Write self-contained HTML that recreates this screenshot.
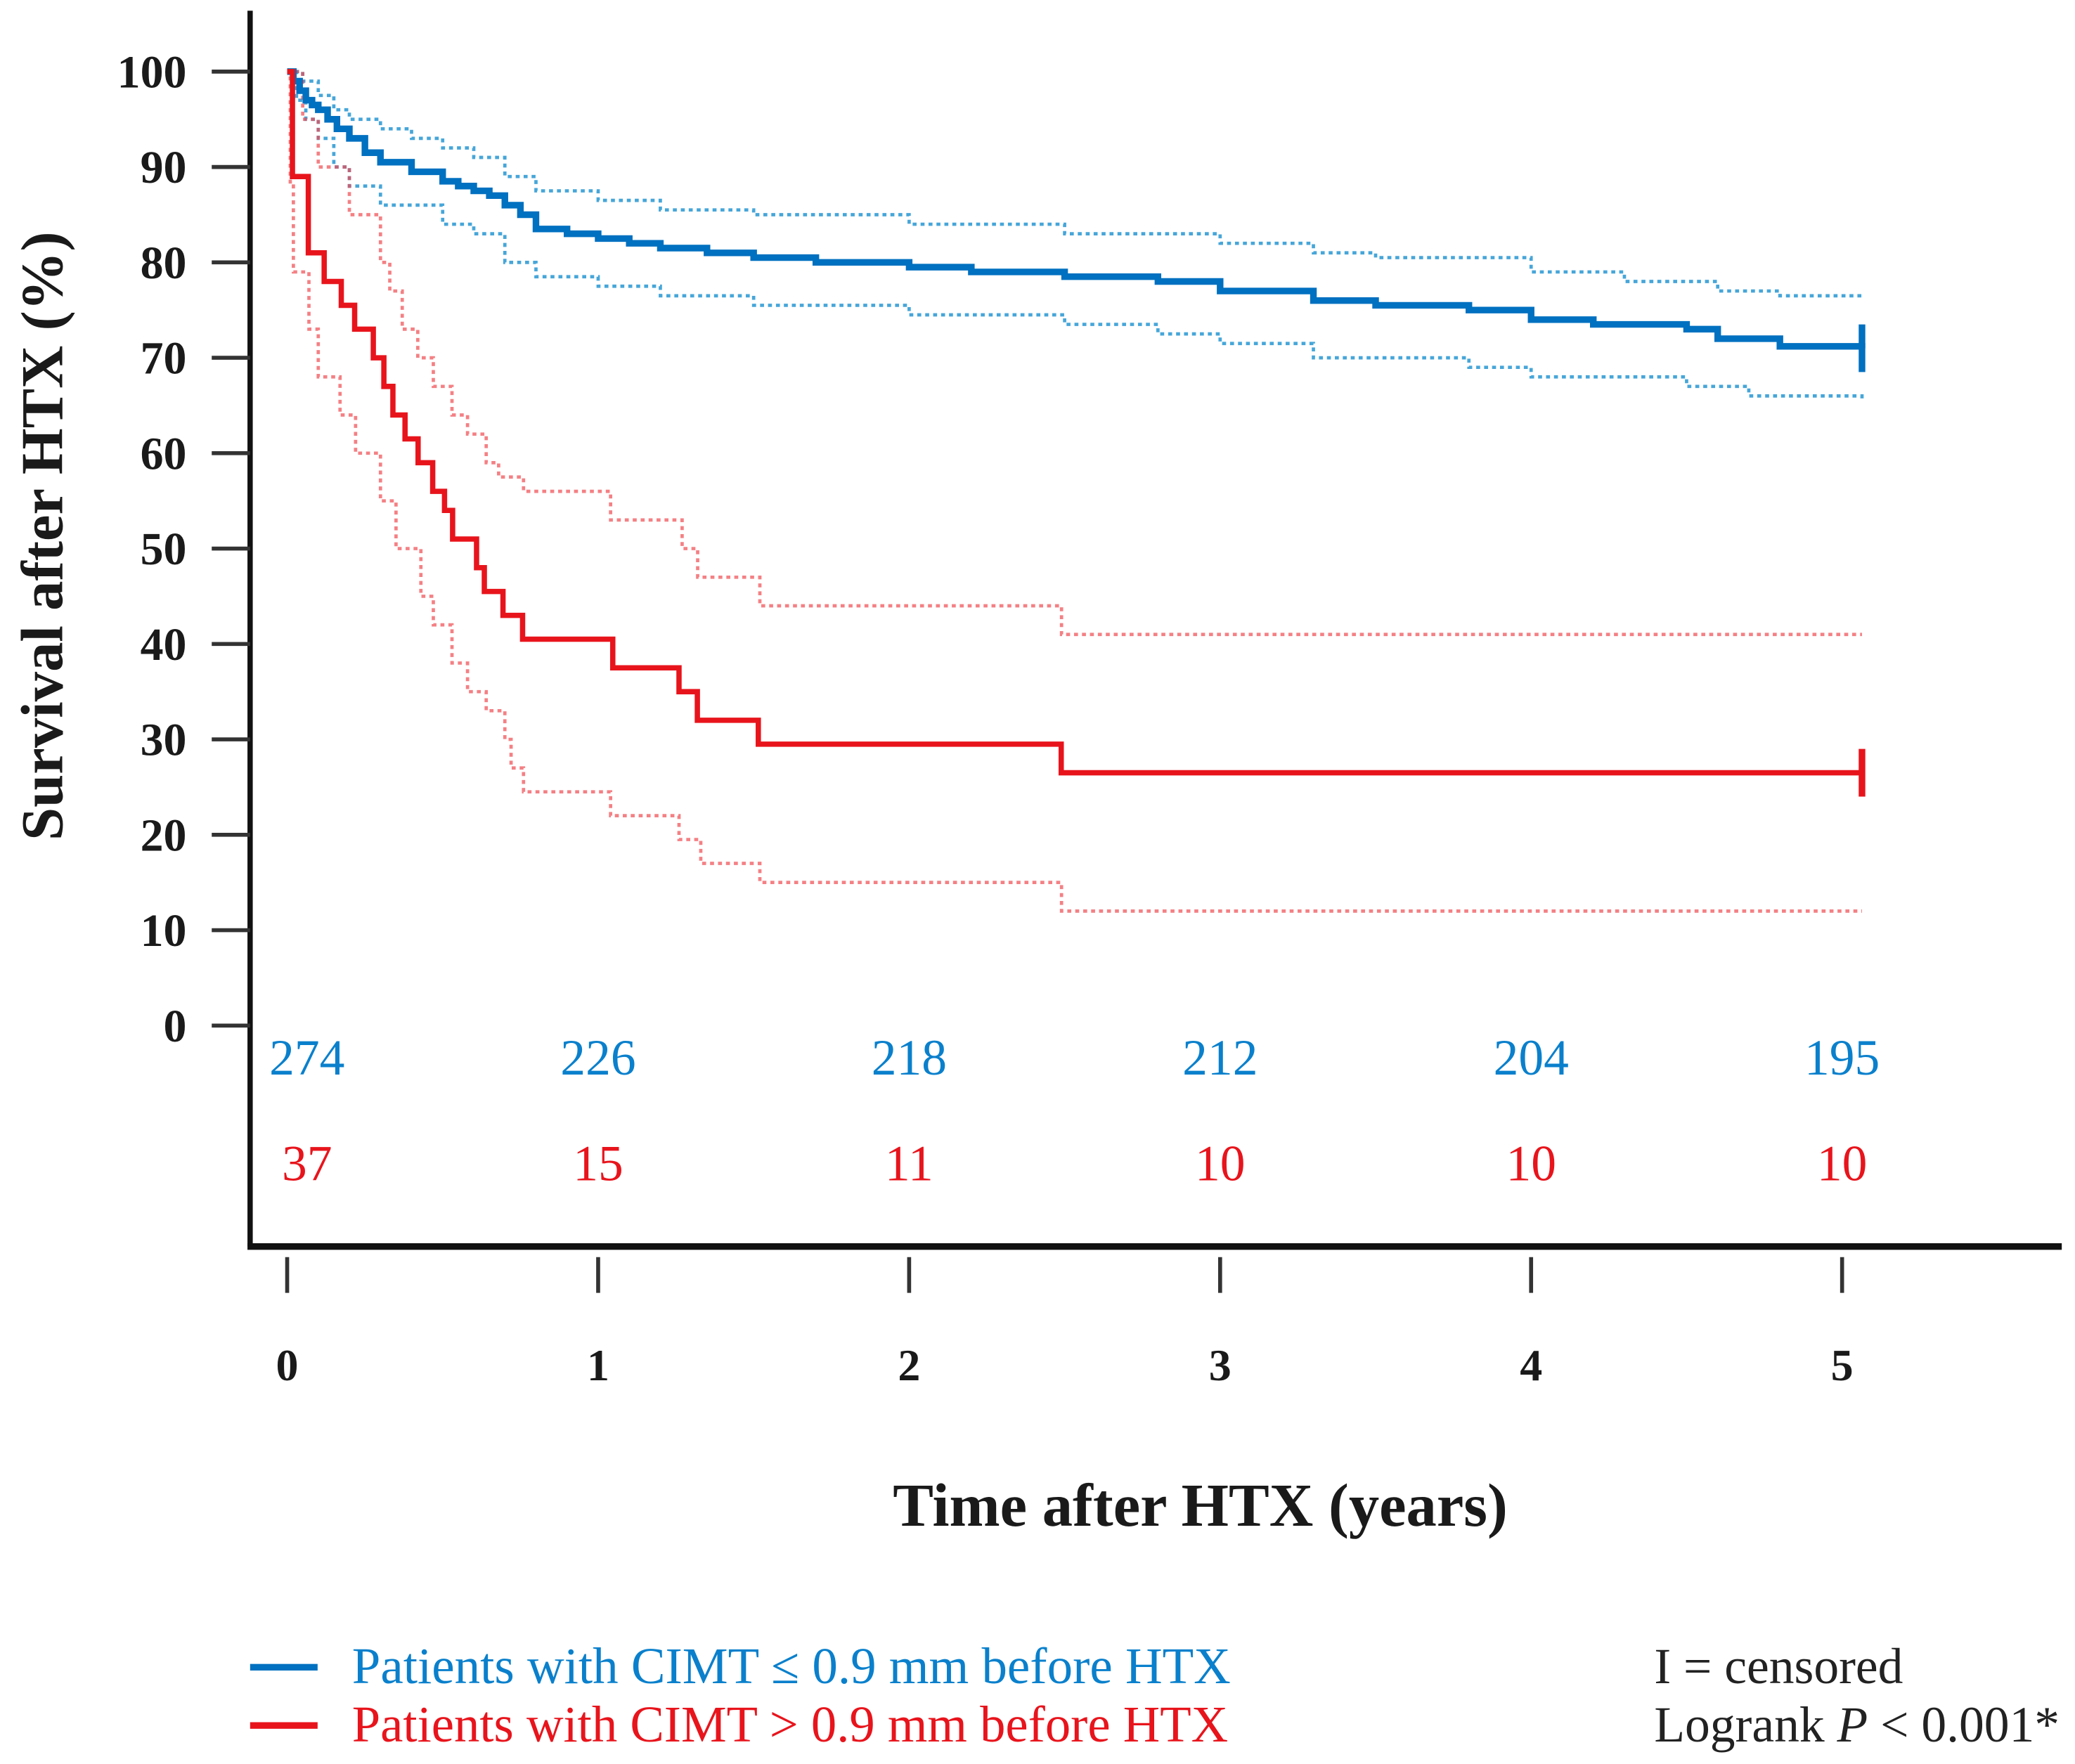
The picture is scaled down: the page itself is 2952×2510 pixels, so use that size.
<!DOCTYPE html>
<html><head><meta charset="utf-8"><style>html,body{margin:0;padding:0;background:#fff}svg{display:block}</style></head>
<body>
<svg id="chart" width="2952" height="2510" viewBox="0 0 1568 1333" xmlns="http://www.w3.org/2000/svg" font-family="'Liberation Serif', serif">
<g id="axes"></g>
<g id="plot"></g>
<text transform="translate(47,405) rotate(-90)" text-anchor="middle" font-size="45" font-weight="bold" fill="#1a1a1a">Survival after HTX (%)</text>
<text x="907" y="1153" text-anchor="middle" font-size="46" font-weight="bold" fill="#1a1a1a">Time after HTX (years)</text>
<g>
<line x1="189" y1="1260" x2="240" y2="1260" stroke="#0070c0" stroke-width="5"/>
<text x="266" y="1272" font-size="39" fill="#0a80cc" textLength="664" lengthAdjust="spacingAndGlyphs">Patients with CIMT ≤ 0.9 mm before HTX</text>
<line x1="189" y1="1304" x2="240" y2="1304" stroke="#e8141c" stroke-width="5"/>
<text x="266" y="1316" font-size="39" fill="#e8141c" textLength="662" lengthAdjust="spacingAndGlyphs">Patients with CIMT &gt; 0.9 mm before HTX</text>
<text x="1250" y="1272" font-size="38" fill="#222">I = censored</text>
<text x="1250" y="1316" font-size="38" fill="#222">Logrank <tspan font-style="italic">P</tspan> &lt; 0.001*</text>
</g>
</svg>
<script>
const yTicks=[0,10,20,30,40,50,60,70,80,90,100];
const xTicks=[0,1,2,3,4,5];
const riskBlue=['274','226','218','212','204','195'];
const riskRed=['37','15','11','10','10','10'];
const blueT=[0,0.02,0.04,0.06,0.08,0.1,0.13,0.16,0.2,0.25,0.3,0.4,0.5,0.55,0.6,0.65,0.7,0.75,0.8,0.9,1.0,1.1,1.2,1.35,1.5,1.7,2.0,2.2,2.5,2.8,3.0,3.3,3.5,3.8,4.0,4.2,4.5,4.6,4.8,5.064];
const blueS=[100,99,98,97,96.5,96,95,94,93,91.5,90.5,89.5,88.5,88,87.5,87,86,85,83.5,83,82.5,82,81.5,81,80.5,80,79.5,79,78.5,78,77,76,75.5,75,74,73.5,73,72,71.2,71];
const blueUpT=[0,0.05,0.1,0.15,0.2,0.3,0.4,0.5,0.6,0.7,0.8,1.0,1.2,1.5,2.0,2.5,3.0,3.3,3.5,4.0,4.3,4.6,4.8,5.064];
const blueUpS=[100,99,97.5,96,95,94,93,92,91,89,87.5,86.5,85.5,85,84,83,82,81,80.5,79,78,77,76.5,76.5];
const blueLoT=[0,0.03,0.06,0.1,0.15,0.2,0.3,0.5,0.6,0.7,0.8,1.0,1.2,1.5,2.0,2.5,2.8,3.0,3.3,3.8,4.0,4.5,4.7,5.064];
const blueLoS=[100,97,95,93,90,88,86,84,83,80,78.5,77.5,76.5,75.5,74.5,73.5,72.5,71.5,70,69,68,67,66,65.5];
const redT=[0,0.017,0.068,0.119,0.174,0.217,0.277,0.311,0.34,0.379,0.421,0.468,0.506,0.532,0.609,0.634,0.694,0.757,1.047,1.26,1.319,1.515,2.489,5.064];
const redS=[100,89,81,78,75.5,73,70,67,64,61.5,59,56,54,51,48,45.5,43,40.5,37.5,35,32,29.5,26.5,26.5];
const redUpT=[0,0.05,0.1,0.2,0.3,0.33,0.37,0.42,0.47,0.53,0.58,0.64,0.68,0.76,1.04,1.27,1.32,1.52,2.49,5.064];
const redUpS=[100,95,90,85,80,77,73,70,67,64,62,59,57.5,56,53,50,47,44,41,41];
const redLoT=[0,0.01,0.02,0.07,0.1,0.17,0.22,0.3,0.35,0.43,0.47,0.53,0.58,0.64,0.7,0.72,0.76,1.04,1.26,1.33,1.52,2.49,5.064];
const redLoS=[100,88,79,73,68,64,60,55,50,45,42,38,35,33,30,27,24.5,22,19.5,17,15,12,12];

const NS='http://www.w3.org/2000/svg';
const X=t=>217+t*235;
const Y=v=>775-v*7.21;
function mk(tag,attrs,parent){const e=document.createElementNS(NS,tag);for(const k in attrs)e.setAttribute(k,attrs[k]);parent.appendChild(e);return e;}
const axes=document.getElementById('axes'),plot=document.getElementById('plot');
let el=mk('line',{x1:189,y1:8,x2:189,y2:942,stroke:'#111','stroke-width':4},axes);


el=mk('line',{x1:187,y1:942,x2:1558,y2:942,stroke:'#111','stroke-width':5},axes);


yTicks.forEach(v=>{
 let t=mk('line',{x1:160,y1:Y(v),x2:189,y2:Y(v),stroke:'#333','stroke-width':3},axes);
 
 
 let l=mk('text',{x:141,y:Y(v)+12,'text-anchor':'end','font-size':35,'font-weight':'bold',fill:'#1a1a1a'},axes);
 l.textContent=String(v);
 
 
});
xTicks.forEach((v,i)=>{
 let t=mk('line',{x1:X(v),y1:950,x2:X(v),y2:977,stroke:'#333','stroke-width':3},axes);
 
 
 let l=mk('text',{x:X(v),y:1043,'text-anchor':'middle','font-size':34,'font-weight':'bold',fill:'#1a1a1a'},axes);
 l.textContent=String(v);
 
 
 const cx=X(v)+(i===0?15:0);
 let b=mk('text',{x:cx,y:812,'text-anchor':'middle','font-size':38,fill:'#0a80cc'},axes);
 b.textContent=riskBlue[i];
 
 
 let r=mk('text',{x:cx,y:892,'text-anchor':'middle','font-size':38,fill:'#e8141c'},axes);
 r.textContent=riskRed[i];
 
 
});
function stepPath(T,S){let d='M'+X(T[0])+','+Y(S[0]);for(let i=1;i<T.length;i++){d+=' H'+X(T[i])+' V'+Y(S[i]);}return d;}
function curve(T,S,color,w,dash,op,name){
 const p=mk('path',{d:stepPath(T,S),fill:'none',stroke:color,'stroke-width':w,'stroke-dasharray':dash||'none',opacity:op},plot);
 
 
}
curve(blueUpT,blueUpS,'#1890d0',2.5,'3 3',0.8,'blue-upper-ci');
curve(blueLoT,blueLoS,'#1890d0',2.5,'3 3',0.8,'blue-lower-ci');
curve(redUpT,redUpS,'#f04a50',2.5,'3 3',0.7,'red-upper-ci');
curve(redLoT,redLoS,'#f04a50',2.5,'3 3',0.7,'red-lower-ci');
curve(blueT,blueS,'#0070c0',5,null,1,'blue-survival-line');
curve(redT,redS,'#e8141c',4,null,1,'red-survival-line');
[[blueT,blueS,'#0070c0','blue-censor-mark'],[redT,redS,'#e8141c','red-censor-mark']].forEach(([T,S,c,n])=>{
 const t=T[T.length-1],s=S[S.length-1];
 const m=mk('line',{x1:X(t),y1:Y(s)-18,x2:X(t),y2:Y(s)+18,stroke:c,'stroke-width':5},plot);
 
 
});
</script>
</body></html>
